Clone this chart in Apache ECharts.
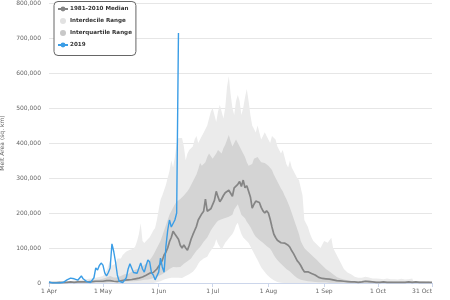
<!DOCTYPE html>
<html><head><meta charset="utf-8">
<script src="https://cdn.jsdelivr.net/npm/echarts@6/dist/echarts.min.js"></script>
<style>html,body{margin:0;padding:0;background:#fff}#c{width:450px;height:300px}</style>
</head><body><div id="c"></div>
<script>
// values are in thousands of sq. km
const UNIT = 1000;
const MONTHS = ['Apr','May','Jun','Jul','Aug','Sep','Oct'];
const MONTH_DAYS = [30,31,30,31,31,30,31];
const TICK_LABELS = ['1 Apr','1 May','1 Jun','1 Jul','1 Aug','1 Sep','1 Oct','31 Oct'];
const Y_TICKS = [0,100000,200000,300000,400000,500000,600000,700000,800000];

const median = [
1,1,1,2,1,1,2,2,1,2, 2,2,3,2,2,3,3,2,3,3, 3,4,3,4,4,4,5,4,5,5,
5,6,7,8,7,6,5,5,4,5, 6,7,8,8,9,9,10,11,12,13, 14,14,17,19,22,25,28,30,30,33,
40,48,55,65,80,88,100,118,130,148, 140,143,125,108,100,109,100,94,108,125,
138,150,162,180,185,198,205,240,205,208, 212,216,236,262,246,232,240,250,258,262,
265,268,248,272,276,282,290,276,294,272, 278,262,246,214,225,234,238,230,216,206,
200,206,200,182,160,140,130,122,118,115, 118,114,110,108,102,92,84,74,64,58,
50,40,32,30,32,29,27,25,23,20, 16,14,13,12,12,11,11,10,9,8,
7,7,6,5,5,4,4,3,3,3, 3,3,2,3,3,4,5,8,4,3, 3,2,2,3,2,2,3,2,2,2,
2,3,2,2,2,3,2,2,2,2, 3,2,2,2,3,3,2,2,2,2, 2,3,2,2];

const p10 = [
0,0,0,0,0,0,0,0,0,0, 0,0,0,0,0,0,0,0,0,0, 0,0,0,0,0,0,0,0,0,0,
0,0,0,0,0,0,0,0,0,0, 0,0,0,0,0,0,0,0,0,0, 0,0,0,0,0,0,0,0,0,0,
2,3,5,8,10,12,13,14,15,15, 15,18,15,12,14,18,20,22,25,28,
32,38,45,55,62,66,70,72,75,85, 95,100,108,125,112,100,95,105,115,123,
128,134,140,150,165,172,155,140,130,125, 120,114,105,95,85,75,66,55,45,38,
30,25,20,15,10,8,5,3,2,1, 0,0,0,0,0,0,0,0,0,0, 0,0,0,0,0,0,0,0,0,0,
0,0,0,0,0,0,0,0,0,0, 0,0,0,0,0,0,0,0,0,0, 0,0,0,0,0,0,0,0,0,0,
0,0,0,0,0,0,0,0,0,0, 0,0,0,0,0,0,0,0,0,0, 0,0,0,0];

const p25 = [
0,0,0,0,0,0,0,0,0,0, 0,0,1,0,0,1,1,0,1,1, 1,1,1,1,1,1,1,1,1,1,
1,1,2,2,2,2,2,2,3,3, 3,3,4,4,4,5,5,5,6,6, 7,7,8,9,10,10,11,12,14,16,
18,20,22,25,28,32,36,40,43,46, 46,45,44,46,50,55,60,62,65,70,
78,85,92,100,103,110,118,125,130,140, 150,158,165,172,178,180,182,185,186,188,
189,192,195,210,220,225,200,195,190,185, 175,168,160,150,140,132,125,123,120,115,
110,106,103,98,90,80,72,66,60,55, 50,45,40,37,33,28,23,18,14,11,
9,8,7,6,5,5,4,4,3,3, 2,2,2,2,2,1,1,1,1,1,
1,1,1,1,1,1,1,1,1,1, 0,0,0,0,0,0,0,0,0,0, 0,0,0,0,0,0,0,0,0,0,
0,0,0,0,0,0,0,0,0,0, 0,0,0,0,0,0,0,0,0,0, 0,0,0,0];

const p75 = [
1,1,1,2,2,2,2,2,3,3, 3,3,4,4,4,5,5,5,6,6, 6,7,7,8,8,9,9,10,10,11,
12,14,16,18,20,18,16,15,16,18, 20,22,25,28,26,30,32,35,38,40, 42,45,48,52,56,60,65,72,80,90,
100,110,120,135,150,165,180,195,205,215, 225,232,237,240,245,250,255,262,270,280,
290,300,310,325,343,335,330,345,360,370, 365,355,360,370,380,375,370,385,395,400,
423,405,390,400,410,400,395,380,370,360, 345,335,331,340,355,360,360,352,345,343,
343,340,335,330,323,310,300,290,280,270, 262,250,240,228,215,200,185,170,155,140,
120,109,100,94,90,85,80,75,70,66, 60,55,50,45,40,37,33,30,25,20,
17,15,13,11,10,9,8,7,6,6, 5,5,5,6,6,7,8,10,8,6,
5,5,5,4,4,5,5,4,4,4, 5,5,4,4,4,5,5,5,4,4, 4,5,5,4,4,4,5,5,5,4, 4,4,5,5];

const p90 = [
2,2,3,3,3,4,4,4,5,5, 6,6,6,7,7,8,8,9,9,10, 10,11,12,12,13,14,15,16,17,18,
20,25,35,50,66,50,45,55,70,75, 70,80,85,90,86,95,100,98,105,120, 140,171,120,114,120,125,131,140,150,157,
180,209,237,250,265,280,300,320,350,330, 360,400,414,410,414,390,351,370,380,375,
390,410,420,400,410,420,429,429,450,470, 489,500,480,460,490,509,505,470,500,560,
591,540,500,480,520,537,520,480,500,530, 554,520,480,450,440,430,450,430,410,420,
431,420,410,400,420,423,410,390,380,370, 380,360,340,330,350,330,320,310,300,294,
294,250,180,170,160,143,130,120,115,110, 105,100,110,120,125,115,120,129,100,90,
80,70,66,50,40,35,30,29,25,20, 18,16,15,14,15,16,18,20,16,14,
13,12,13,14,12,12,11,12,13,12, 11,12,11,10,10,11,12,11,10,10, 11,12,13,12,11,10,10,11,12,13, 14,12,11,12];

const y2019 = [
3,2,0,0,0,0,0,0,2,3, 9,6,14,10,12,14,8,12,20,12, 8,4,2,1,2,15,43,37,50,57,
51,29,20,30,43,112,90,60,23,5, 2,1,3,15,40,55,60,30,29,28,
31,57,40,31,50,66,60,29,23,9, 12,31,71,46,31,103,150,180,160,170,
180,200,714];

// build category labels (one per day)
const days = [];
MONTHS.forEach((m, i) => { for (let d = 1; d <= MONTH_DAYS[i]; d++) days.push(d + ' ' + m); });

const k = a => a.map(v => v * UNIT);
const diff = (hi, lo) => hi.map((v, i) => (v - lo[i]) * UNIT);

const FONT = 'DejaVu Sans';
const chart = echarts.init(document.getElementById('c'), null, {renderer: 'canvas'});
const showTick = (idx, val) => TICK_LABELS.indexOf(val) >= 0;

chart.setOption({
  animation: false,
  backgroundColor: '#fff',
  grid: {left: 49, right: 18, top: 3, bottom: 17, containLabel: false, outerBoundsMode: 'none'},
  legend: {
    orient: 'vertical', left: 54, top: 1.5,
    padding: [3.5, 4, 6.5, 3],
    itemWidth: 10, itemHeight: 6, itemGap: 4,
    backgroundColor: '#fff', borderColor: '#666', borderWidth: 1, borderRadius: 4,
    textStyle: {fontFamily: FONT, fontSize: 5.6, fontWeight: 'bold', color: '#333', lineHeight: 8, padding: [0,0,0,-3]},
    data: [
      {name: '1981-2010 Median'},
      {name: 'Interdecile Range', icon: 'circle'},
      {name: 'Interquartile Range', icon: 'circle'},
      {name: '2019'}
    ]
  },
  xAxis: {
    type: 'category', data: days, boundaryGap: false,
    axisLine: {lineStyle: {color: '#ccd6eb', width: 1}},
    axisTick: {show: true, interval: showTick, length: 4, lineStyle: {color: '#ccd6eb'}},
    axisLabel: {interval: showTick, color: '#666', fontFamily: FONT, fontSize: 6, margin: 5, alignMaxLabel: 'right'},
    splitLine: {show: false}
  },
  yAxis: {
    type: 'value', min: Y_TICKS[0], max: Y_TICKS[Y_TICKS.length-1], interval: Y_TICKS[1]-Y_TICKS[0],
    name: 'Melt Area (sq. km)', nameLocation: 'middle', nameGap: 33, nameRotate: 90,
    nameTextStyle: {color: '#666', fontFamily: FONT, fontSize: 6},
    axisLine: {show: false}, axisTick: {show: false},
    axisLabel: {color: '#666', fontFamily: FONT, fontSize: 6, margin: 8,
      formatter: v => String(v).replace(/\B(?=(\d{3})+(?!\d))/g, ',')},
    splitLine: {lineStyle: {color: '#e6e6e6', width: 1}}
  },
  series: [
    {name: '_p10', type: 'line', stack: 'dec', data: k(p10), symbol: 'none', lineStyle: {opacity: 0}, silent: true},
    {name: 'Interdecile Range', type: 'line', stack: 'dec', data: diff(p90, p10), symbol: 'none',
     itemStyle: {color: '#e2e2e2'}, lineStyle: {width: 0, opacity: 0}, areaStyle: {color: '#ebebeb', opacity: 1}},
    {name: '_p25', type: 'line', stack: 'iqr', data: k(p25), symbol: 'none', lineStyle: {opacity: 0}, silent: true},
    {name: 'Interquartile Range', type: 'line', stack: 'iqr', data: diff(p75, p25), symbol: 'none',
     itemStyle: {color: '#c8c8c8'}, lineStyle: {width: 0, opacity: 0}, areaStyle: {color: '#d4d4d4', opacity: 1}},
    {name: '1981-2010 Median', type: 'line', data: k(median), symbol: 'circle', symbolSize: 4, showSymbol: false,
     itemStyle: {color: '#858585'}, lineStyle: {color: '#858585', width: 1.7}},
    {name: '2019', type: 'line', data: k(y2019), symbol: 'circle', symbolSize: 4, showSymbol: false,
     itemStyle: {color: '#3a9de6'}, lineStyle: {color: '#3a9de6', width: 1.4}}
  ]
});
</script>
</body></html>
